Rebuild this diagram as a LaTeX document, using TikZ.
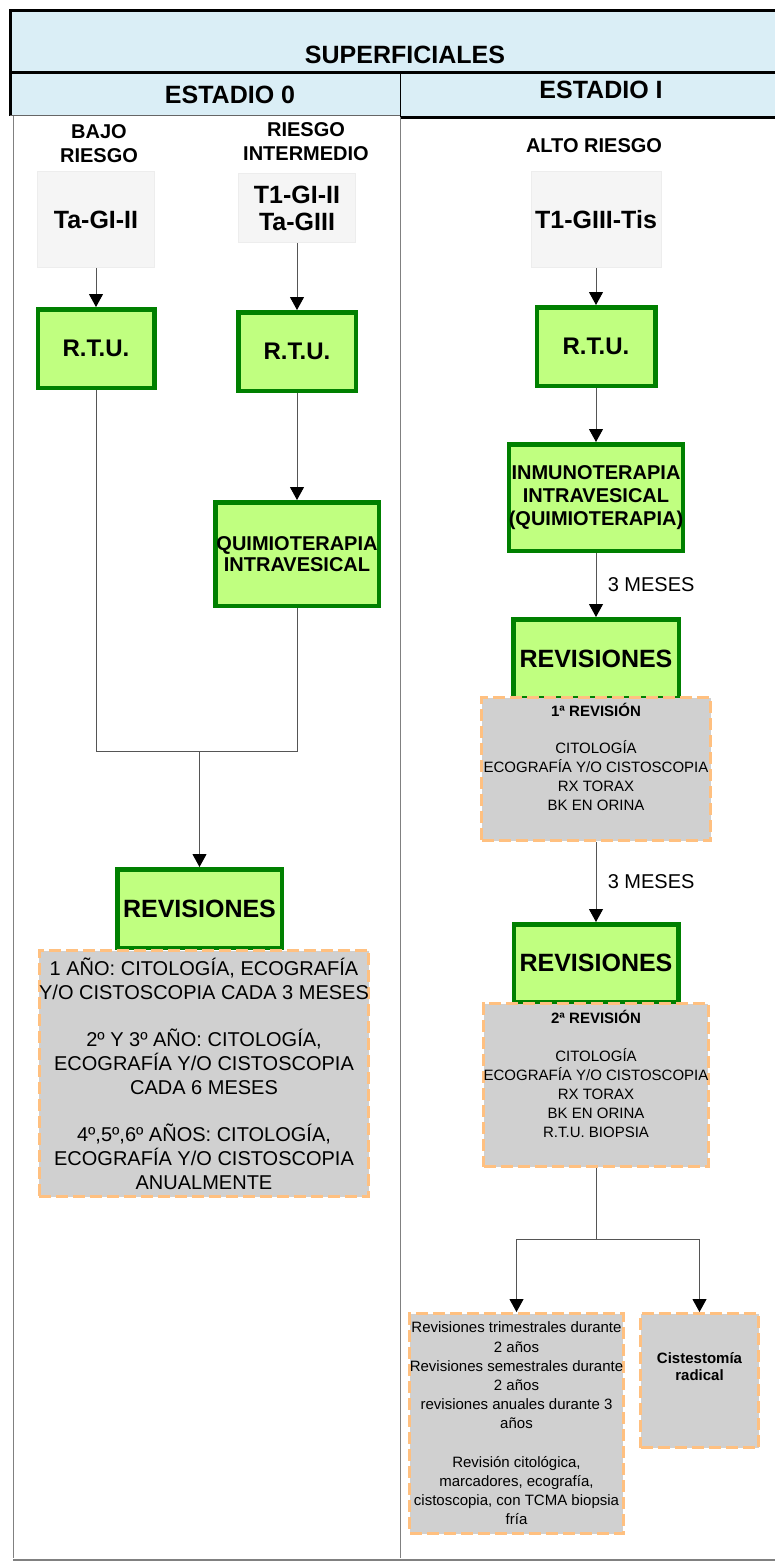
\documentclass[tikz,border=0pt]{standalone}
\usepackage{fontspec}
\setmainfont{Liberation Sans}
\usetikzlibrary{arrows.meta,positioning}

\definecolor{headblue}{HTML}{DAEEF6}
\definecolor{gradegray}{HTML}{F5F5F5}
\definecolor{gradeline}{HTML}{EDEDED}
\definecolor{treatgreen}{HTML}{C0FF80}
\definecolor{treatdark}{HTML}{008000}
\definecolor{reviewgray}{HTML}{D0D0D0}
\definecolor{reviewline}{HTML}{FFC080}
\definecolor{flowgray}{HTML}{555555}
\newcommand{\fs}[2]{\fontsize{#1}{#2}\selectfont}

\begin{document}
\begin{tikzpicture}[x=1pt,y=-1pt,>={Triangle[width=14pt,length=13pt,color=black]},
		auto,line width=1pt]
		\tikzstyle{grade}=[fill=gradegray,draw=gradeline,inner sep=0pt,align=center,font=\fs{25}{27}\bfseries]
		\tikzstyle{treat}=[fill=treatgreen,draw=treatdark,line width=4.5pt,inner sep=0pt,align=center]
		\tikzstyle{review}=[fill=reviewgray,draw=reviewline,line width=3pt,dash pattern=on 12pt off 5pt,inner sep=0pt,align=center]
		\tikzstyle{risk}=[align=center,font=\fs{20}{24}\bfseries]
		\tikzstyle{flow}=[draw=flowgray,line width=1pt]
		
		\useasboundingbox (0,0) rectangle (775,1567);
		
		% header
		\fill[headblue] (10,10) rectangle (775,116);
		\draw[line width=3pt] (775,10) -- (10,10) -- (10,116);
		\draw[line width=3pt] (10,72) -- (775,72);
		\draw[line width=3pt] (400,117) -- (775,117);
		\draw[black!60] (10,115) -- (400,115);
		\draw (400,72) -- (400,117);
		\draw[black!50] (13,116) -- (13,1558);
		\draw[black!50] (400,117) -- (400,1558);
		\draw[black!50,line width=2.5pt] (13,1560) -- (775,1560);
		
		\node[font=\fs{25}{27}\bfseries] (superf) at (405,55) {SUPERFICIALES};
		\node[font=\fs{25}{27}\bfseries] (est0) at (230,95) {ESTADIO 0};
		\node[font=\fs{25}{27}\bfseries] (est1) at (601,90) {ESTADIO I};
		
		% estadio 0
		\node[risk] (bajo) at (99,144) {BAJO\\RIESGO};
		\node[risk] (inter) at (306,142) {RIESGO\\INTERMEDIO};
		\node[grade,minimum width=117pt,minimum height=96pt] (tagi) at (96,219.5) {Ta-GI-II};
		\node[grade,minimum width=117pt,minimum height=69pt] (tgi) at (297,208) {T1-GI-II\\Ta-GIII};
		\node[treat,minimum width=116.5pt,minimum height=78.5pt,font=\fs{24}{26}\bfseries] (rtua) at (96,348.5) {R.T.U.};
		\node[treat,minimum width=117.5pt,minimum height=78.5pt,font=\fs{24}{26}\bfseries] (rtub) at (297,351.5) {R.T.U.};
		\node[treat,minimum width=163.5pt,minimum height=103.5pt,font=\fs{20}{21}\bfseries] (quim) at (297,554) {QUIMIOTERAPIA\\INTRAVESICAL};
		\node[treat,minimum width=164.5pt,minimum height=78.5pt,font=\fs{25}{27}\bfseries] (reva) at (199.5,908.5) {REVISIONES};
		\node[review,minimum width=323pt,minimum height=246pt,font=\fs{20}{24}] (segua) at (204,1073.5)
			{1 AÑO: CITOLOGÍA, ECOGRAFÍA\\Y/O CISTOSCOPIA CADA 3 MESES\\[23pt]2º Y 3º AÑO: CITOLOGÍA,\\ECOGRAFÍA Y/O CISTOSCOPIA\\CADA 6 MESES\\[23pt]4º,5º,6º AÑOS: CITOLOGÍA,\\ECOGRAFÍA Y/O CISTOSCOPIA\\ANUALMENTE};
		\coordinate (merge) at (199.5,751);
		
		% estadio I
		\node[risk] (alto) at (594,146) {ALTO RIESGO};
		\node[grade,minimum width=130pt,minimum height=96pt] (tis) at (596,219.5) {T1-GIII-Tis};
		\node[treat,minimum width=118.5pt,minimum height=78.5pt,font=\fs{24}{26}\bfseries] (rtuc) at (596,346.5) {R.T.U.};
		\node[treat,minimum width=172.5pt,minimum height=106.5pt,font=\fs{20}{23}\bfseries] (inmu) at (596,497.5) {INMUNOTERAPIA\\INTRAVESICAL\\(QUIMIOTERAPIA)};
		\node[treat,minimum width=165.5pt,minimum height=78.5pt,font=\fs{25}{27}\bfseries] (revb) at (596,658.5) {REVISIONES};
		\node[review,minimum width=229pt,minimum height=143pt,font=\fs{15}{19}] (revisa) at (596,769)
			{{\bfseries 1ª REVISIÓN}\\[18pt]CITOLOGÍA\\ECOGRAFÍA Y/O CISTOSCOPIA\\RX TORAX\\BK EN ORINA\\[5pt]\mbox{}};
		\node[treat,minimum width=164.5pt,minimum height=77.5pt,font=\fs{25}{27}\bfseries] (revc) at (596,963) {REVISIONES};
		\node[review,minimum width=224pt,minimum height=163pt,font=\fs{15}{19}] (revisb) at (596,1085)
			{{\bfseries 2ª REVISIÓN}\\[19pt]CITOLOGÍA\\ECOGRAFÍA Y/O CISTOSCOPIA\\RX TORAX\\BK EN ORINA\\R.T.U. BIOPSIA\\[3pt]\mbox{}};
		\coordinate (split) at (596,1239);
		\node[review,minimum width=210pt,minimum height=220pt,font=\fs{15}{19.2}] (cont) at (516.5,1423.5)
			{Revisiones trimestrales durante\\2 años\\Revisiones semestrales durante\\2 años\\revisiones anuales durante 3\\años\\[19pt]Revisión citológica,\\marcadores, ecografía,\\cistoscopia, con TCMA biopsia\\fría};
		\node[review,minimum width=118pt,minimum height=134pt,font=\fs{15}{17}\bfseries] (cist) at (699.5,1380.5)
			{Cistestomía\\radical\\[11pt]\mbox{}};
		
		\path[->,flow]
		(tagi) edge (rtua)
		(tgi) edge (rtub)
		(rtub) edge (quim)
		(tis) edge (rtuc)
		(rtuc) edge (inmu)
		(inmu) edge node[right=8pt,font=\fs{20}{24}] {3 MESES} (revb)
		(revisa) edge node[right=8pt,font=\fs{20}{24}] {3 MESES} (revc);
		\draw[flow] (rtua) |- (merge) -| (quim);
		\draw[flow,->] (merge) -- (reva);
		\draw[flow] (revisb) -- (split);
		\draw[flow,->] (split) -| (cont);
		\draw[flow,->] (split) -| (cist);
\end{tikzpicture}
\end{document}
